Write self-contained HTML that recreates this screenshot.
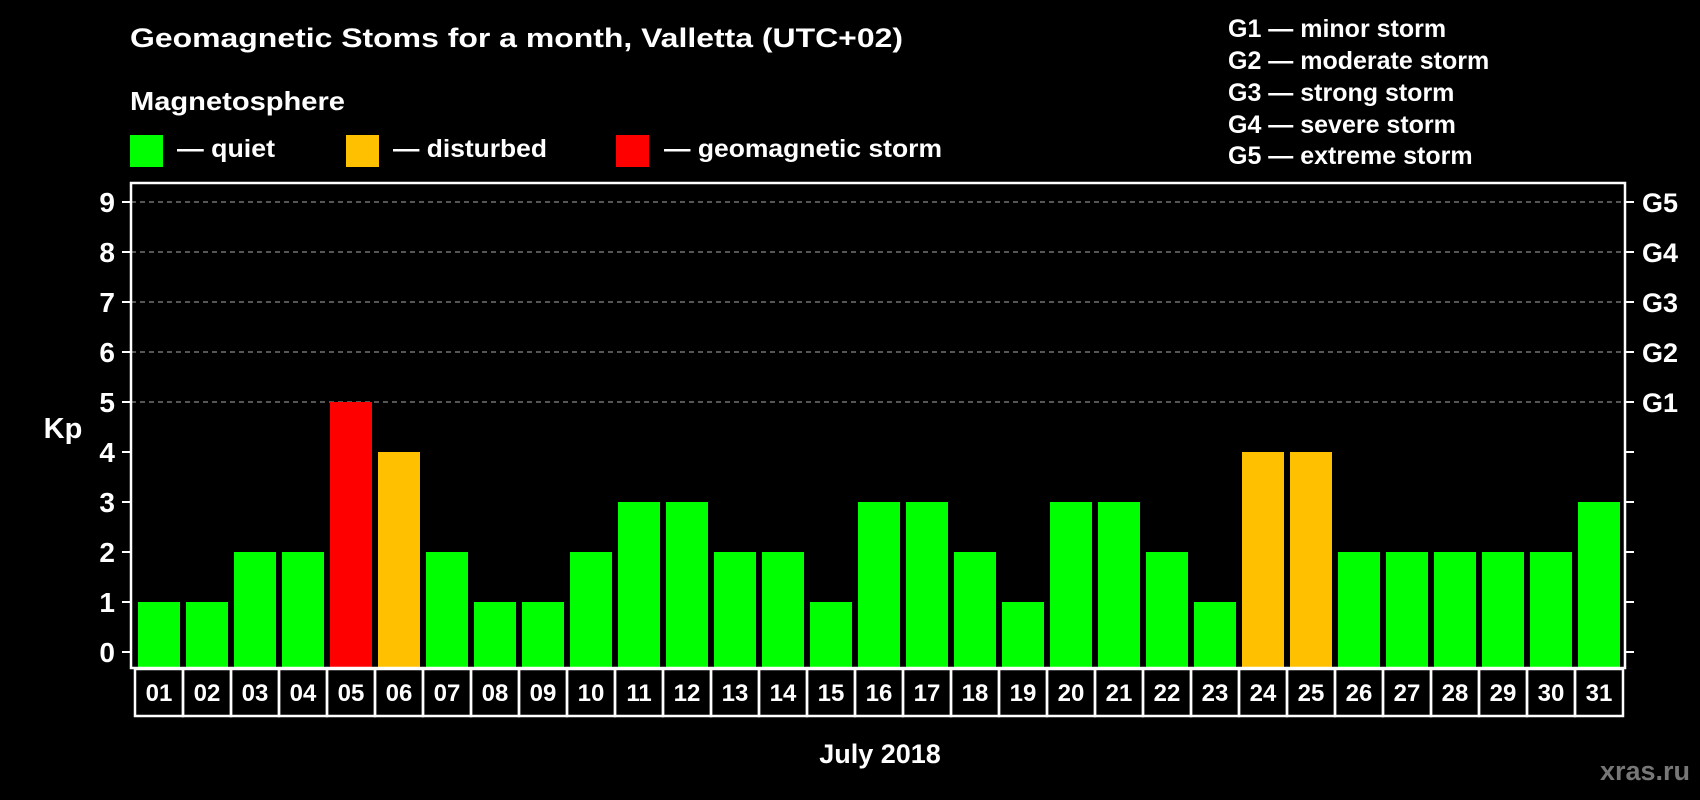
<!DOCTYPE html>
<html><head><meta charset="utf-8"><style>
html,body{margin:0;padding:0;background:#000;width:1700px;height:800px;overflow:hidden}
svg{display:block;font-family:"Liberation Sans",sans-serif;font-weight:bold}
</style></head><body>
<svg id="c" width="1700" height="800" viewBox="0 0 1700 800">
<text x="130" y="47" font-size="27" fill="#fff" textLength="773" lengthAdjust="spacingAndGlyphs">Geomagnetic Stoms for a month, Valletta (UTC+02)</text>
<text x="130" y="110" font-size="26" fill="#fff" textLength="215" lengthAdjust="spacingAndGlyphs">Magnetosphere</text>
<g><rect x="130" y="135" width="33" height="32" fill="#00ff00"/><text x="177" y="157" font-size="25" fill="#fff" textLength="98" lengthAdjust="spacingAndGlyphs">— quiet</text></g>
<g><rect x="346" y="135" width="33" height="32" fill="#ffc000"/><text x="393" y="157" font-size="25" fill="#fff" textLength="154" lengthAdjust="spacingAndGlyphs">— disturbed</text></g>
<g><rect x="616" y="135" width="33" height="32" fill="#ff0000"/><text x="664" y="157" font-size="25" fill="#fff" textLength="278" lengthAdjust="spacingAndGlyphs">— geomagnetic storm</text></g>
<g font-size="25" fill="#fff">
<text x="1228" y="37">G1 — minor storm</text>
<text x="1228" y="69">G2 — moderate storm</text>
<text x="1228" y="101">G3 — strong storm</text>
<text x="1228" y="133">G4 — severe storm</text>
<text x="1228" y="164">G5 — extreme storm</text>
</g>
<text x="63" y="438" font-size="29" fill="#fff" text-anchor="middle">Kp</text>
<text x="880" y="763" font-size="27" fill="#fff" text-anchor="middle">July 2018</text>
<text x="1690" y="780" font-size="27" fill="#777" text-anchor="end">xras.ru</text>
<g id="plot"></g>
</svg>
<script>
const days=["01","02","03","04","05","06","07","08","09","10","11","12","13","14","15","16","17","18","19","20","21","22","23","24","25","26","27","28","29","30","31"];
const kpValues=[1,1,2,2,5,4,2,1,1,2,3,3,2,2,1,3,3,2,1,3,3,2,1,4,4,2,2,2,2,2,3];
const yTicks=[0,1,2,3,4,5,6,7,8,9];
const gLabels=["","","","","","G1","G2","G3","G4","G5"];
const NS="http://www.w3.org/2000/svg";
const g=document.getElementById('plot');
const L=131,R=1625,T=183,B=668,Y0=652,U=50,X0=138,P=48,BW=42;
const y=v=>Y0-v*U, x=i=>X0+i*P;
function mk(t,a,p){const e=document.createElementNS(NS,t);for(const k in a)e.setAttribute(k,a[k]);(p||g).appendChild(e);return e;}
yTicks.forEach((v,i)=>{
  if(v>=5){const gl=mk('line',{x1:L,x2:R,y1:y(v),y2:y(v),stroke:'#888','stroke-width':1.2,'stroke-dasharray':'5,4'});
  
  }
  mk('line',{x1:122,x2:L,y1:y(v),y2:y(v),stroke:'#fff','stroke-width':2});
  mk('line',{x1:R,x2:1634,y1:y(v),y2:y(v),stroke:'#fff','stroke-width':2});
  const t=mk('text',{x:115,y:y(v)+10,'font-size':28,fill:'#fff','text-anchor':'end'});t.textContent=v;
  
  
  if(gLabels[i]){const r=mk('text',{x:1642,y:y(v)+10,'font-size':27,fill:'#fff'});r.textContent=gLabels[i];
  
  }
});
kpValues.forEach((v,i)=>{
  const c=v>=5?'#ff0000':(v>=4?'#ffc000':'#00ff00');
  const b=mk('rect',{x:x(i),y:y(v),width:BW,height:B-y(v),fill:c});
  
  
  const bx=mk('rect',{x:x(i)-3,y:669,width:P,height:47,fill:'none',stroke:'#fff','stroke-width':2.5});
  
  
  const t=mk('text',{x:x(i)+BW/2,y:701,'font-size':24,fill:'#fff','text-anchor':'middle'});t.textContent=days[i];
  
  
});
const f=mk('rect',{x:L,y:T,width:R-L,height:B-T,fill:'none',stroke:'#fff','stroke-width':2.5});


</script>
</body></html>
